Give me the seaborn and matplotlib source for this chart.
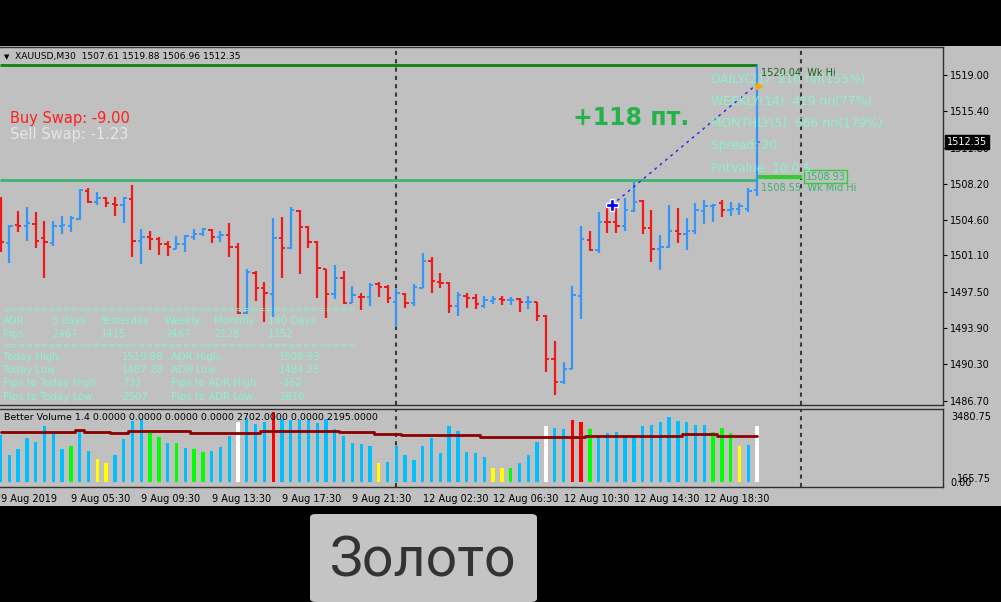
import numpy as np
import seaborn as sns
import matplotlib.pyplot as plt
from matplotlib.patches import Rectangle, FancyBboxPatch

# XAUUSD M30 bars
opens = [1506.60, 1502.30, 1504.09, 1504.05, 1504.19, 1502.80, 1502.30, 1504.00, 1504.05, 1504.71,
         1507.49, 1506.37, 1506.80, 1506.20, 1506.10, 1506.70, 1502.53, 1502.90, 1502.70, 1502.23,
         1501.77, 1502.23, 1502.96, 1503.20, 1503.59, 1502.96, 1503.10, 1501.97, 1495.36, 1499.39,
         1497.84, 1497.27, 1502.86, 1501.81, 1505.51, 1503.95, 1502.46, 1499.75, 1497.27, 1498.89,
         1496.41, 1496.95, 1496.95, 1498.27, 1497.97, 1496.45, 1497.27, 1496.35, 1497.90, 1500.58,
         1498.49, 1498.39, 1496.11, 1497.07, 1496.85, 1496.11, 1496.58, 1496.75, 1496.66, 1496.75,
         1496.43, 1496.45, 1495.09, 1490.79, 1488.57, 1489.86, 1497.10, 1502.63, 1501.64, 1504.42,
         1504.39, 1504.02, 1505.51, 1506.53, 1503.87, 1501.74, 1501.94, 1503.52, 1503.26, 1503.57,
         1505.51, 1505.97, 1506.35, 1505.61, 1505.66, 1505.66, 1507.61]
highs = [1506.93, 1504.12, 1505.51, 1505.87, 1505.38, 1504.55, 1504.52, 1504.98, 1504.98, 1507.69,
         1507.82, 1507.36, 1506.87, 1506.93, 1506.93, 1508.09, 1503.69, 1503.55, 1502.96, 1502.53,
         1503.03, 1503.13, 1503.69, 1503.79, 1503.69, 1503.55, 1504.29, 1502.36, 1499.75, 1499.58,
         1498.43, 1504.78, 1504.88, 1505.87, 1505.61, 1504.02, 1502.53, 1499.80, 1500.15, 1499.55,
         1498.07, 1497.34, 1498.33, 1498.49, 1498.17, 1497.74, 1497.34, 1498.24, 1501.37, 1500.97,
         1499.33, 1498.43, 1497.44, 1497.34, 1497.24, 1497.10, 1497.10, 1497.10, 1496.95, 1496.91,
         1497.10, 1496.48, 1495.19, 1492.64, 1490.56, 1498.07, 1504.02, 1503.52, 1505.41, 1506.27,
         1505.87, 1506.77, 1508.41, 1506.60, 1505.61, 1503.13, 1506.10, 1505.78, 1504.78, 1506.27,
         1506.60, 1506.20, 1506.60, 1506.40, 1506.33, 1507.76, 1519.88]
lows = [1501.41, 1500.32, 1503.45, 1502.56, 1501.84, 1498.89, 1502.07, 1503.23, 1503.45, 1504.61,
        1506.33, 1506.10, 1505.87, 1505.01, 1504.29, 1500.97, 1500.22, 1501.61, 1501.14, 1501.07,
        1501.74, 1501.47, 1502.60, 1503.06, 1502.36, 1502.40, 1500.97, 1495.29, 1495.29, 1496.61,
        1494.53, 1495.02, 1498.89, 1501.71, 1499.23, 1501.87, 1496.85, 1494.86, 1496.78, 1496.28,
        1496.35, 1495.69, 1496.11, 1496.95, 1496.41, 1494.00, 1495.85, 1496.08, 1497.84, 1497.40,
        1497.90, 1495.42, 1495.09, 1495.85, 1495.76, 1495.91, 1496.25, 1496.18, 1496.18, 1495.52,
        1495.76, 1494.60, 1489.56, 1487.28, 1488.34, 1489.80, 1494.76, 1501.54, 1501.37, 1503.35,
        1503.35, 1503.52, 1505.41, 1503.26, 1500.40, 1499.65, 1501.84, 1502.33, 1501.64, 1503.26,
        1504.25, 1504.37, 1504.88, 1505.01, 1505.11, 1505.44, 1506.96]
closes = [1502.46, 1504.05, 1504.02, 1504.29, 1502.56, 1502.43, 1504.05, 1504.09, 1504.78, 1507.59,
          1506.43, 1506.83, 1506.27, 1506.10, 1506.83, 1502.53, 1502.90, 1502.70, 1502.20, 1501.94,
          1502.20, 1503.03, 1503.20, 1503.69, 1502.96, 1503.10, 1501.97, 1495.36, 1499.49, 1497.84,
          1497.34, 1502.86, 1501.81, 1505.61, 1503.95, 1502.40, 1499.82, 1497.27, 1498.89, 1496.41,
          1497.17, 1496.93, 1498.17, 1498.00, 1496.85, 1497.37, 1496.35, 1497.94, 1500.58, 1498.59,
          1498.39, 1496.11, 1497.17, 1496.85, 1496.25, 1496.68, 1496.78, 1496.68, 1496.70, 1496.45,
          1496.47, 1495.09, 1490.79, 1488.57, 1489.80, 1497.17, 1502.70, 1501.64, 1504.45, 1504.39,
          1504.02, 1505.58, 1506.43, 1503.87, 1501.74, 1501.94, 1503.52, 1503.20, 1503.57, 1505.58,
          1505.97, 1506.07, 1505.61, 1505.66, 1506.00, 1507.49, 1512.35]

# Better Volume 1.4 histogram, bar colour codes and its average line
volumes = [2256, 1296, 1570, 2098, 1934, 2688, 2304, 1570, 1728, 2386,
           1502, 1090, 926, 1296, 2050, 2928, 3024, 2366, 2146, 1886,
           1886, 1618, 1570, 1454, 1502, 1666, 2208, 2894, 3086, 2784,
           2894, 3346, 3024, 2976, 2976, 2976, 2846, 3024, 2544, 2222,
           1886, 1824, 1728, 926, 974, 1728, 1296, 1056, 1728, 2098,
           1406, 2688, 2462, 1454, 1406, 1214, 658, 658, 658, 926,
           1296, 1934, 2688, 2578, 2530, 2976, 2894, 2530, 2174, 2366,
           2414, 2174, 2174, 2688, 2736, 2894, 3134, 2942, 2894, 2736,
           2736, 2414, 2578, 2366, 1728, 1776, 2702]
vol_codes = "bbbbbbbbgbbyybbbbggbgbggbbbwbbbrbbbbbbbbbbbybbbbbbbbbbbbyygbbbwbbrrgbbbbbbbbbbbbbgggybw"
vol_ma = [2414] * 9 + [2496] + [2414] * 3 + [2338] * 2 + [2448] * 7 + [2366] * 8 + \
         [2462] * 9 + [2386] * 4 + [2290] * 3 + [2256] * 9 + [2174] * 4 + [2146] * 8 + \
         [2208] * 11 + [2290] * 4 + [2195] * 5

price_ticks = [1519.00, 1515.40, 1511.80, 1508.20, 1504.60, 1501.10, 1497.50, 1493.90, 1490.30, 1486.70]
time_tick_bars = [0, 8, 16, 24, 32, 40, 48, 56, 64, 72, 80]
time_tick_labels = ['9 Aug 2019', '9 Aug 05:30', '9 Aug 09:30', '9 Aug 13:30', '9 Aug 17:30',
                    '9 Aug 21:30', '12 Aug 02:30', '12 Aug 06:30', '12 Aug 10:30', '12 Aug 14:30',
                    '12 Aug 18:30']
separators = [44.95, 90.95]

wk_hi = 1520.04
wk_mid_hi = 1508.55
adr_high = 1508.93
last_price = 1512.35

adr_rows = [
    ['ADR:', '5 days', 'Yesterday', 'Weekly', 'Monthly', '180 Days'],
    ['Pips:', '2467', '1415', '2467', '2128', '1352'],
]
level_rows = [
    ['Today High:', '1519.88', 'ADR High:', '1508.93'],
    ['Today Low:', '1487.28', 'ADR Low:', '1484.25'],
    ['Pips to Today High:', '733', 'Pips to ADR High:', '-362'],
    ['Pips to Today Low:', '2507', 'Pips to ADR Low:', '2810'],
]
info_lines = ['DAILY(21): 210 пп(155%)', 'WEEKLY(14): 419 пп(77%)', 'MONTHLY(5): 666 пп(179%)',
              'Spread: 20', 'PntValue: 10.0 $']

sns.set_theme(style='white')
plt.rcParams['font.family'] = ['DejaVu Sans']

W, H = 1001, 602
fig = plt.figure(figsize=(W / 100, H / 100), dpi=100, facecolor='black')


def fx(px):
    return px / W


def fy(py):
    return 1 - py / H


SILVER = '#c0c0c0'
AQUA = '#8cf2c8'
fig.patches.append(Rectangle((0, fy(506)), 1, (506 - 46) / H, transform=fig.transFigure,
                             facecolor=SILVER, edgecolor='none', zorder=-10))

ax = fig.add_axes([0, fy(405), fx(943), (405 - 47) / H], facecolor=SILVER)
axv = fig.add_axes([0, fy(487), fx(943), (487 - 409) / H], facecolor=SILVER)

bars = np.arange(len(closes))
o = np.array(opens)
c = np.array(closes)
bar_cols = np.where(c >= o, '#3296fa', '#f01818')

# OHLC bars
ax.vlines(bars, lows, highs, colors=bar_cols, lw=1.6, zorder=3)
ax.hlines(o, bars - 0.38, bars, colors=bar_cols, lw=1.4, zorder=3)
ax.hlines(c, bars, bars + 0.38, colors=bar_cols, lw=1.4, zorder=3)

x_left, x_right = -0.057, 107.14
ax.set_xlim(x_left, x_right)
ax.set_ylim(1486.26, 1521.78)

# weekly levels
ax.hlines(wk_hi, x_left, bars[-1], color='#0f7f0f', lw=2, zorder=2)
ax.hlines(wk_mid_hi, x_left, bars[-1], color='#3cb371', lw=2, zorder=2)
ax.hlines(adr_high, bars[-1], separators[1] + 0.2, color='#32cd32', lw=3, zorder=2)
ax.text(bars[-1] + 0.4, wk_hi - 0.85, '1520.04  Wk Hi', color='#1f5f1f', fontsize=7, va='center')
ax.text(bars[-1] + 0.4, wk_mid_hi - 0.75, '1508.55  Wk Mid Hi', color='#3cb371', fontsize=7, va='center')
ax.text(separators[1] + 0.6, adr_high, '1508.93', color='#3cb371', fontsize=7, va='center',
        bbox=dict(boxstyle='square,pad=0.15', fc=SILVER, ec='#32cd32', lw=1))

# period separators
for sx in separators:
    ax.axvline(sx, color='#3a3a3a', ls=(0, (2, 2)), lw=1.5, zorder=1)
    axv.axvline(sx, color='#3a3a3a', ls=(0, (2, 2)), lw=1.5, zorder=1)

# measuring line
ax.plot([69.5, 86.0], [1506.10, 1518.10], ls=(0, (2, 3)), color='#2020ff', lw=1, zorder=4)
ax.plot([69.5], [1506.10], marker='P', ms=8, color='#0000ff', mec='white', mew=1, zorder=5)
ax.plot([86.2], [1517.95], marker='>', ms=5, color='#ffa500', zorder=5)

# price scale
ax.yaxis.tick_right()
ax.set_yticks(price_ticks)
ax.set_yticklabels([f'{p:.2f}' for p in price_ticks])
ax.tick_params(axis='y', direction='out', length=3, width=0.8, colors='black', labelsize=7, pad=2)
ax.set_xticks([])
ax.annotate(f'{last_price:.2f}', xy=(1.0, last_price), xycoords=('axes fraction', 'data'),
            xytext=(3, 0), textcoords='offset points', va='center', ha='left', fontsize=7,
            color='white', bbox=dict(boxstyle='square,pad=0.2', fc='black', ec='black'),
            annotation_clip=False, zorder=6)

# volume panel
vol_palette = {'b': '#00bfff', 'g': '#00ff00', 'y': '#ffff00', 'w': '#ffffff', 'r': '#ff0000'}
axv.bar(bars, volumes, width=0.38, color=[vol_palette[k] for k in vol_codes],
        edgecolor='none', linewidth=0, zorder=2)
sns.lineplot(x=bars, y=vol_ma, ax=axv, color='#8b0000', lw=2, drawstyle='steps-mid', zorder=3)
axv.set_xlim(x_left, x_right)
axv.set_ylim(-240, 3504)
axv.set_yticks([])
axv.set_ylabel('')
axv.set_xticks(time_tick_bars)
axv.set_xticklabels(time_tick_labels, ha='left')
axv.tick_params(axis='x', direction='out', length=3, width=0.8, colors='black', labelsize=7, pad=2)

for a in (ax, axv):
    for side, sp in a.spines.items():
        sp.set_color('#303030')
        sp.set_linewidth(1)
    a.spines['left'].set_visible(False)

# header and indicator texts
fig.text(fx(4), fy(57), '▼', fontsize=5, va='center', color='black')
fig.text(fx(15), fy(57), 'XAUUSD,M30  1507.61 1519.88 1506.96 1512.35', fontsize=6.6,
         va='center', color='black')
fig.text(fx(10), fy(119), 'Buy Swap: -9.00', color='#ff1e1e', fontsize=10.5, va='center')
fig.text(fx(10), fy(135), 'Sell Swap: -1.23', color='#e6e6e6', fontsize=10.5, va='center')
fig.text(fx(573), fy(118), '+118 пт.', color='#26b24a', fontsize=17, fontweight='bold', va='center')
for k, line in enumerate(info_lines):
    fig.text(fx(711), fy(80 + 22 * k), line, color=AQUA, fontsize=8.8, va='center')

fig.text(fx(3), fy(310), '=' * 47, color=AQUA, fontsize=6.5, va='center')
fig.text(fx(3), fy(346), '=' * 47, color=AQUA, fontsize=6.5, va='center')
adr_x = [3, 52, 101, 165, 214, 268]
for r, row in enumerate(adr_rows):
    for xp, cell in zip(adr_x, row):
        fig.text(fx(xp), fy(321.5 + 12 * r), cell, color=AQUA, fontsize=7.3, va='center')
lvl_x = [3, 122, 171, 279]
for r, row in enumerate(level_rows):
    for xp, cell in zip(lvl_x, row):
        fig.text(fx(xp), fy(357 + 13.2 * r), cell, color=AQUA, fontsize=7.3, va='center')

fig.text(fx(4), fy(418), 'Better Volume 1.4 0.0000 0.0000 0.0000 0.0000 2702.0000 0.0000 2195.0000',
         fontsize=6.8, va='center', color='black')
fig.text(fx(951), fy(417), '3480.75', fontsize=7, va='center', color='black')
fig.text(fx(957), fy(479), '165.75', fontsize=7, va='center', color='black')
fig.text(fx(950), fy(483), '0.00', fontsize=7, va='center', color='black')

# caption box
fig.patches.append(FancyBboxPatch((fx(310), fy(602)), fx(227), (602 - 514) / H,
                                  boxstyle='round,pad=0,rounding_size=0.006',
                                  transform=fig.transFigure, facecolor='#c4c4c4',
                                  edgecolor='none', zorder=-10))
fig.text(fx(423), fy(561), 'Золото', fontsize=40, color='#333333', ha='center', va='center',
         family='Roboto')

fig.savefig('out.png', dpi=100, facecolor='black')
